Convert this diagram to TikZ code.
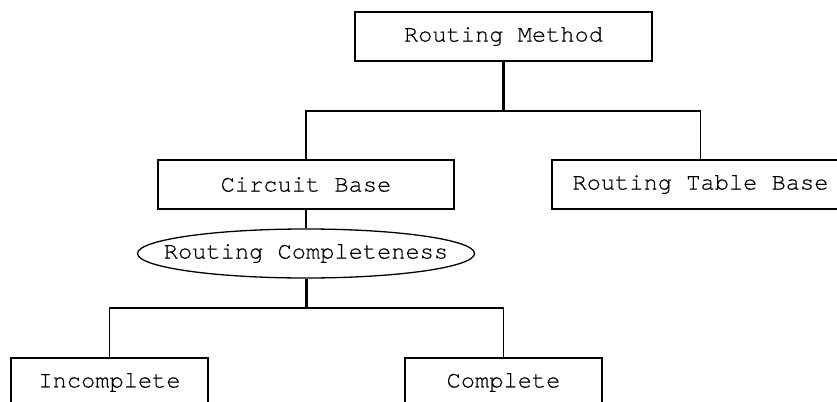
\documentclass[tikz,border=0pt]{standalone}
\usepackage{fontspec}
\setmonofont[FakeBold=0.4]{TeX Gyre Cursor}
\usetikzlibrary{shapes.geometric}
\tikzset{
  label font/.style={font=\ttfamily\fontsize{11.85}{14}\selectfont},
  box/.style={draw, rectangle, line width=0.65pt, minimum height=24.5pt, inner sep=0pt, label font},
  oval/.style={draw, ellipse, line width=0.65pt, minimum height=24.5pt, minimum width=168.5pt,
    inner sep=0pt, label font},
  link/.style={line width=0.85pt},
  trunk/.style={line width=1.5pt},
}
\begin{document}
\begin{tikzpicture}[x=0.5pt, y=-0.5pt]
  \useasboundingbox (0,0) rectangle (837,402);
  \clip (0,0) rectangle (837,402);
  \fill[white] (0,0) rectangle (837,402);

  % tree nodes
  \node[box, minimum width=148.5pt] (rm)  at (503.5,36.5)  {Routing Method};
  \node[box, minimum width=148pt]   (cb)  at (306,184.5)   {Circuit Base};
  \node[box, minimum width=148.5pt] (rtb) at (700.5,184.5) {Routing Table Base};
  \node[oval]                       (rc)  at (306,253.5)   {\makebox[0pt]{Routing Completeness}};
  \node[box, minimum width=98.5pt]  (inc) at (109.5,382.5) {Incomplete};
  \node[box, minimum width=98.5pt]  (cmp) at (503.5,382.5) {Complete};

  % branch points
  \coordinate (j1) at (503.5,111);
  \coordinate (j2) at (306,308);

  % first level
  \draw[trunk] (rm.south) -- (j1);
  \draw[link] (cb.north) |- (j1) -| (rtb.north);
  \draw[link] (cb.south) -- (rc.north);

  % second level
  \draw[trunk] (rc.south) -- (j2);
  \draw[link] (inc.north) |- (j2) -| (cmp.north);
\end{tikzpicture}
\end{document}
